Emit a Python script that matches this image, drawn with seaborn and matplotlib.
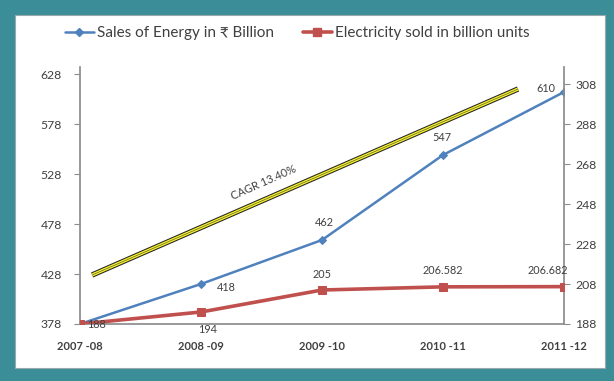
import matplotlib
matplotlib.use("Agg")
import matplotlib.pyplot as plt
import matplotlib.patheffects as pe
from matplotlib.patches import Rectangle
import seaborn as sns
import pandas as pd

# Data
years = ["2007 -08", "2008 -09", "2009 -10", "2010 -11", "2011 -12"]
sales_energy = [378, 418, 462, 547, 610]          # Rs billion
electricity_sold = [188, 194, 205, 206.582, 206.682]  # billion units
sales_labels = [None, "418", "462", "547", "610"]
elec_labels = ["188", "194", "205", "206.582", "206.682"]
left_ticks = [378, 428, 478, 528, 578, 628]
right_ticks = [188, 208, 228, 248, 268, 288, 308]

# CAGR trend arrow (category position, left-axis value)
cagr_start = (0.10, 427)
cagr_end = (3.62, 613)
cagr_text = "CAGR 13.40%"

sns.set_theme(style="white")
plt.rcParams["font.family"] = ["Lato", "DejaVu Sans"]

BLUE = "#4f81bd"
RED = "#c0504d"
TXT = "#404040"
AXC = "#8c8c8c"
TEAL = "#3b8e98"

W, H = 614, 381
fig = plt.figure(figsize=(W / 100, H / 100), dpi=100, facecolor=TEAL)
fig.patches.append(Rectangle((15 / W, 1 - 368 / H), (605 - 15) / W, (368 - 15) / H,
                             transform=fig.transFigure, facecolor="white",
                             edgecolor="#9aa8aa", linewidth=0.8, zorder=-5))

ax = fig.add_axes([80 / W, 1 - 324 / H, (564 - 80) / W, (324 - 67) / H])
ax.patch.set_alpha(0)
ax2 = ax.twinx()
ax2.patch.set_alpha(0)

df = pd.DataFrame({"pos": range(len(years)), "sales": sales_energy, "elec": electricity_sold})

sns.lineplot(data=df, x="pos", y="sales", ax=ax, color=BLUE, linewidth=1.8,
             marker="D", markersize=4.5, markeredgecolor=BLUE, zorder=3)
sns.lineplot(data=df, x="pos", y="elec", ax=ax2, color=RED, linewidth=2.6,
             marker="s", markersize=6, markeredgecolor=RED, zorder=3)

ax.set_xlim(0, len(years) - 1)
ax.set_ylim(378, 635)
ax2.set_ylim(188, 316.5)
ax.set_yticks(left_ticks)
ax2.set_yticks(right_ticks)
ax.set_xticks(range(len(years)))
ax.set_xticklabels(years, fontsize=8, fontweight="bold", color=TXT)
ax.set_xlabel("")
ax.set_ylabel("")
ax2.set_ylabel("")
for a in (ax, ax2):
    a.grid(False)
    a.tick_params(axis="y", labelsize=8.8, labelcolor=TXT, color=AXC, length=4, width=0.8, direction="out")
    for s in a.spines.values():
        s.set_visible(False)
ax.tick_params(axis="x", color=AXC, length=4, width=0.8, direction="out", pad=8)
ax.tick_params(axis="y", pad=9)
ax2.tick_params(axis="y", pad=4)
ax.spines["left"].set_visible(True)
ax.spines["left"].set_color(AXC)
ax.spines["bottom"].set_visible(True)
ax.spines["bottom"].set_color(AXC)
ax2.spines["right"].set_visible(True)
ax2.spines["right"].set_color(AXC)

# Value labels
sales_off = [None, (25, -3), (2, 18), (-1, 18), (-18, 4)]
for i, (v, lab) in enumerate(zip(sales_energy, sales_labels)):
    if lab:
        ax.annotate(lab, (i, v), xytext=sales_off[i], textcoords="offset pixels",
                    ha="center", va="center", fontsize=7.8, color=TXT, zorder=5)
elec_off = [(17, 0), (7, -17), (0, 16), (0, 16), (-16, 16)]
for i, (v, lab) in enumerate(zip(electricity_sold, elec_labels)):
    ax2.annotate(lab, (i, v), xytext=elec_off[i], textcoords="offset pixels",
                 ha="center", va="center", fontsize=7.8, color=TXT, zorder=5)

# CAGR trend band
ax.plot([cagr_start[0], cagr_end[0]], [cagr_start[1], cagr_end[1]],
        color="#f2ee2a", linewidth=2.4, solid_capstyle="butt", zorder=2,
        path_effects=[pe.Stroke(linewidth=3.9, foreground="#222222"), pe.Normal()])
ax.plot([cagr_start[0], cagr_end[0]], [cagr_start[1], cagr_end[1]],
        color="#444444", linewidth=0.4, zorder=2)
ax.text(1.52, 519, cagr_text, rotation=24, ha="center", va="center",
        fontsize=8, color=TXT, rotation_mode="anchor")

# Legend
handles = [
    plt.Line2D([], [], color=BLUE, linewidth=1.8, marker="D", markersize=4.5),
    plt.Line2D([], [], color=RED, linewidth=2.6, marker="s", markersize=5.5),
]
fig.legend(handles, ["Sales of Energy in \u20b9 Billion", "Electricity sold in billion units"],
           loc="center", bbox_to_anchor=(297 / W, 1 - 33 / H), ncol=2, frameon=False,
           fontsize=11, handlelength=1.9, handletextpad=0.2, columnspacing=1.9,
           labelcolor=TXT)

fig.savefig("out.png", dpi=100, facecolor=TEAL)
